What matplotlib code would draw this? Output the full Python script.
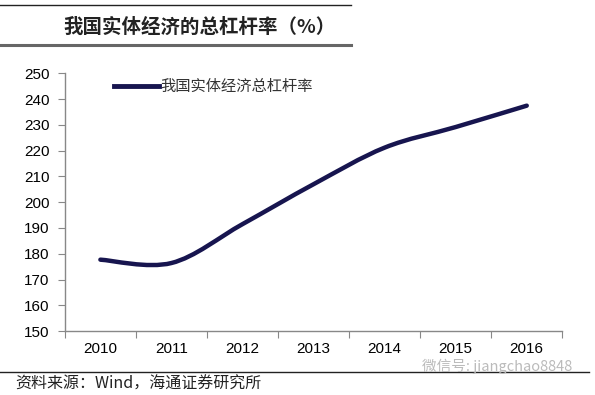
import matplotlib
matplotlib.use("Agg")
import matplotlib.pyplot as plt
import numpy as np
from matplotlib.path import Path
from matplotlib.patches import PathPatch
from matplotlib.lines import Line2D

plt.rcParams['font.family'] = ['Noto Sans CJK SC', 'DejaVu Sans']

# data
years = ["2010", "2011", "2012", "2013", "2014", "2015", "2016"]
leverage = [177.7, 176.4, 191.5, 207.0, 221.2, 229.2, 237.5]
y_ticks = [150, 160, 170, 180, 190, 200, 210, 220, 230, 240, 250]

title = "我国实体经济的总杠杆率（%）"
series_name = "我国实体经济总杠杆率"
source = "资料来源：Wind，海通证券研究所"
watermark = "微信号: jiangchao8848"

LINE_COLOR = "#17154f"
SPINE = "#888888"


def smooth_path(xs, ys):
    # Catmull-Rom style bezier, like Excel's smoothed line
    pts = np.column_stack([xs, ys])
    verts = [pts[0]]
    codes = [Path.MOVETO]
    n = len(pts)
    for i in range(n - 1):
        p0 = pts[i - 1] if i > 0 else pts[i]
        p1 = pts[i]
        p2 = pts[i + 1]
        p3 = pts[i + 2] if i + 2 < n else pts[i + 1]
        c1 = p1 + (p2 - p0) / 6.0
        c2 = p2 - (p3 - p1) / 6.0
        verts += [c1, c2, p2]
        codes += [Path.CURVE4] * 3
    return Path(verts, codes)


fig = plt.figure(figsize=(5.95, 3.95), dpi=100)
ax = fig.add_axes([0.109, 0.162, 0.836, 0.652])

x = np.arange(len(years))
path = smooth_path(x, leverage)
ax.add_patch(PathPatch(path, facecolor="none", edgecolor=LINE_COLOR,
                       linewidth=3.2, capstyle="round", joinstyle="round"))

ax.set_xlim(-0.5, len(years) - 0.5)
ax.set_ylim(150, 250)
ax.set_yticks(y_ticks)
ax.set_yticklabels([str(v) for v in y_ticks], family="Liberation Sans", fontsize=11)
ax.set_xticks(np.arange(-0.5, len(years), 1.0))
ax.set_xticklabels([])
ax.set_xticks(x, minor=True)
ax.set_xticklabels(years, minor=True, family="Liberation Sans", fontsize=11)
ax.tick_params(axis="x", which="minor", length=0, pad=8)
ax.tick_params(axis="x", which="major", length=5, color=SPINE, direction="out")
ax.tick_params(axis="y", length=5, color=SPINE, direction="out", pad=6)

for side in ["top", "right"]:
    ax.spines[side].set_visible(False)
for side in ["left", "bottom"]:
    ax.spines[side].set_color(SPINE)
    ax.spines[side].set_linewidth(1.0)

# legend
handle = Line2D([], [], color=LINE_COLOR, linewidth=3.5)
leg = ax.legend([handle], [series_name], loc="upper left", bbox_to_anchor=(0.072, 1.035),
                frameon=False, handlelength=2.9, handletextpad=0.1,
                prop={"family": ["Noto Sans CJK SC"], "size": 11})
for t in leg.get_texts():
    t.set_color("#333333")

# header and footer
fig.add_artist(Line2D([0.0, 0.59], [0.987, 0.987], color="#222222", linewidth=1.0))
fig.text(0.106, 0.932, title, fontsize=14, fontweight="bold", va="center", ha="left",
         color="#222222")
fig.add_artist(Line2D([0.0, 0.59], [0.886, 0.886], color="#666666", linewidth=2.2))

fig.add_artist(Line2D([0.0, 0.99], [0.058, 0.058], color="#222222", linewidth=1.0))
fig.text(0.025, 0.027, source, fontsize=11.5, va="center", ha="left", color="#222222")
fig.text(0.71, 0.073, watermark, fontsize=10.5, va="center", ha="left", color="#bbbbbb")

fig.savefig("out.png", dpi=100, facecolor="white")
